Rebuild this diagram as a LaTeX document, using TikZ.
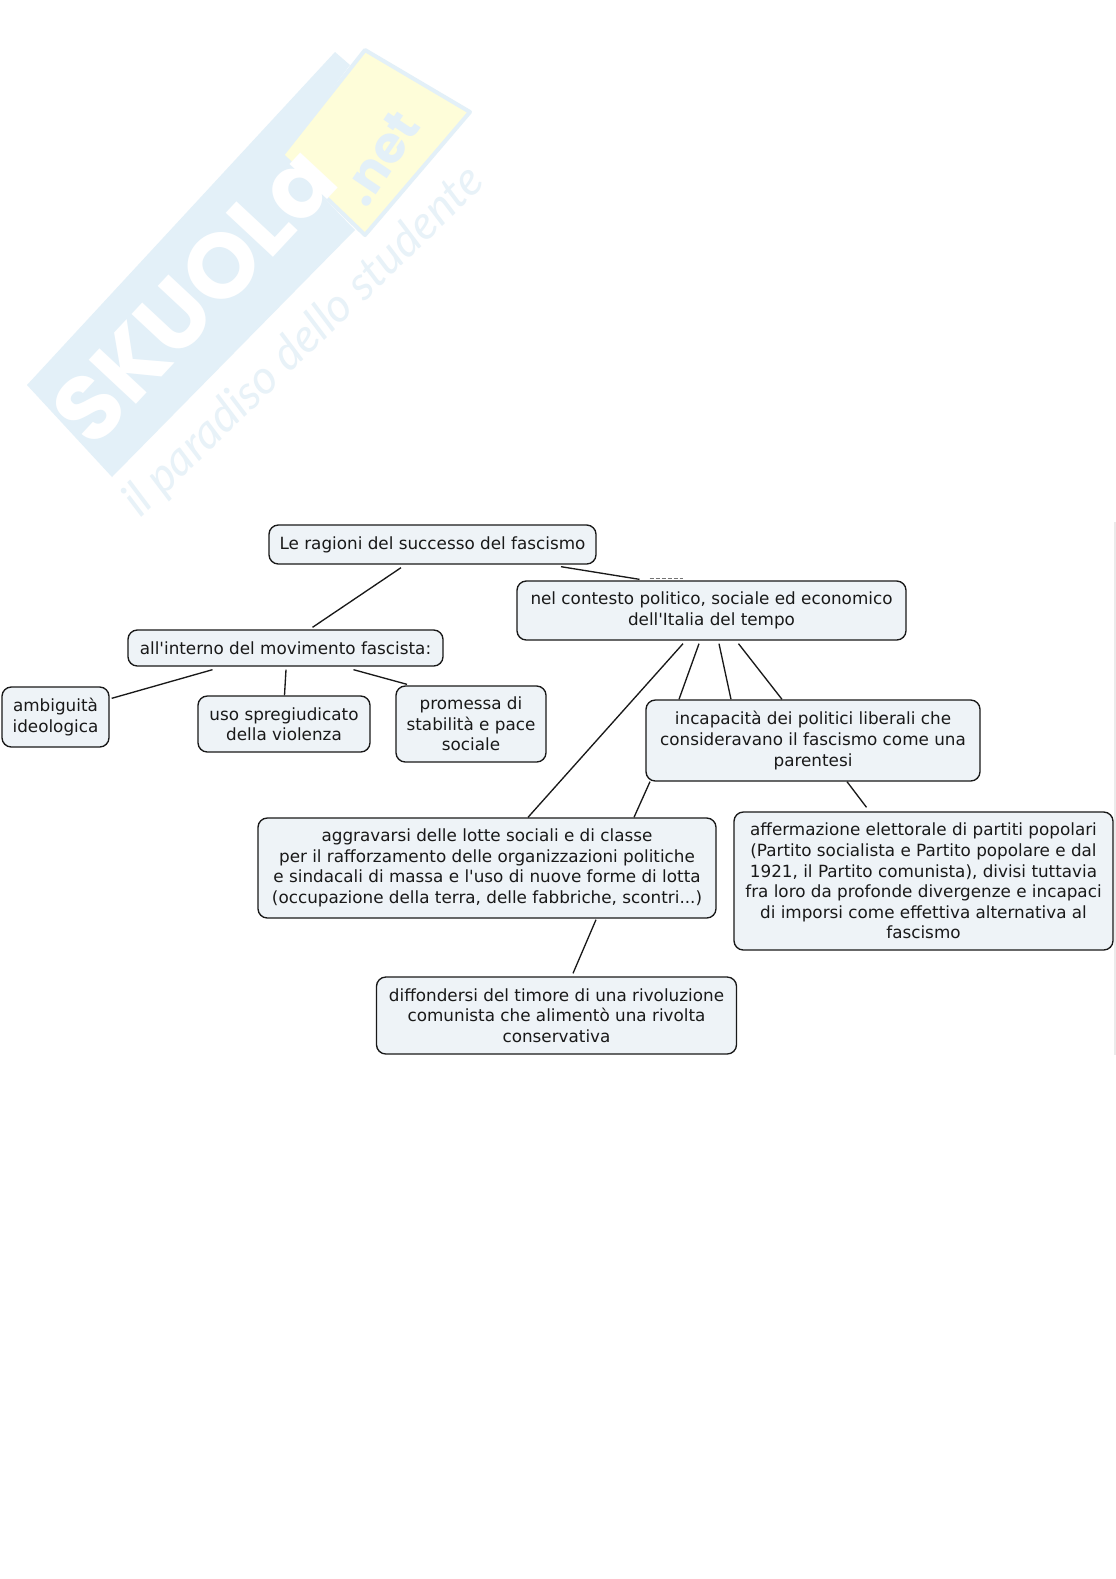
\documentclass[tikz,border=0pt]{standalone}
\usepackage{fontspec}
\newfontfamily\conceptfont{DejaVu Sans}
\newfontfamily\wmbold{Poppins}[UprightFont=* Bold]
\newfontfamily\wmscript{Lato}[UprightFont=*, ItalicFont=* Italic]
\definecolor{boxfill}{HTML}{EEF3F7}
\definecolor{wmblue}{HTML}{E3F0F8}
\definecolor{wmyellow}{HTML}{FEFDD9}
\definecolor{wmscriptc}{HTML}{E8F2F8}
\tikzset{
  concept/.style={draw=black!90,fill=boxfill,line width=1pt,rounded corners=7pt,align=center,inner sep=0pt,
    font=\conceptfont\fontsize{12.6}{15.4}\selectfont,text=black!90},
  link/.style={draw=black!90,line width=1pt},
}
\begin{document}
\begin{tikzpicture}[x=0.75pt,y=-0.75pt]
\useasboundingbox (0,0) rectangle (1116,1579);
\fill[white] (0,0) rectangle (1116,1579);
% watermark
\fill[wmblue] (27,385) -- (335,52) -- (350,65) -- (282,155) -- (355,230) -- (112,477) -- cycle;
\filldraw[wmyellow,draw=wmblue,line width=3pt,line join=round] (282,155) -- (365,50) -- (470,112) -- (365,235) -- cycle;
\node[rotate=47,text=white,font=\wmbold\fontsize{69}{69}\selectfont,inner sep=0pt] (wma) at (194,295) {SKUOLa};
\node[rotate=56,text=wmblue,font=\wmbold\fontsize{38}{38}\selectfont,inner sep=0pt] (wmb) at (380,158) {.net};
\node[rotate=44,text=wmscriptc,font=\wmscript\itshape\fontsize{35}{35}\selectfont,inner sep=0pt] (wmc) at (304,342) {il paradiso dello studente};
\draw[black!8,line width=1pt] (1115,522) -- (1115,1055);
% nodes
\node[concept,minimum width=327*0.75pt,minimum height=39*0.75pt] (top) at (432.5,544.5) {Le ragioni del successo del fascismo};
\node[concept,minimum width=315*0.75pt,minimum height=36*0.75pt] (int) at (285.5,648) {all'interno del movimento fascista:};
\node[concept,minimum width=107*0.75pt,minimum height=60*0.75pt] (amb) at (55.5,717) {ambiguità\\ideologica};
\node[concept,minimum width=172*0.75pt,minimum height=56*0.75pt] (uso) at (284,724) {uso spregiudicato\\della violenza};
\node[concept,minimum width=150*0.75pt,minimum height=76*0.75pt] (pro) at (471,724) {promessa di\\stabilità e pace\\sociale};
\node[concept,minimum width=389*0.75pt,minimum height=59*0.75pt] (nel) at (711.5,610.5) {nel contesto politico, sociale ed economico\\dell'Italia del tempo};
\node[concept,minimum width=334*0.75pt,minimum height=81*0.75pt] (inc) at (813,740.5) {incapacità dei politici liberali che\\consideravano il fascismo come una\\parentesi};
\node[concept,minimum width=458*0.75pt,minimum height=100*0.75pt] (agg) at (487,868) {aggravarsi delle lotte sociali e di classe\\per il rafforzamento delle organizzazioni politiche\\e sindacali di massa e l'uso di nuove forme di lotta\\(occupazione della terra, delle fabbriche, scontri...)};
\node[concept,minimum width=379*0.75pt,minimum height=138*0.75pt] (aff) at (923.5,881) {affermazione elettorale di partiti popolari\\(Partito socialista e Partito popolare e dal\\1921, il Partito comunista), divisi tuttavia\\fra loro da profonde divergenze e incapaci\\di imporsi come effettiva alternativa al\\fascismo};
\node[concept,minimum width=360*0.75pt,minimum height=77*0.75pt] (dif) at (556.5,1015.5) {diffondersi del timore di una rivoluzione\\comunista che alimentò una rivolta\\conservativa};
% connectors
\draw[link] ([shift={(-31.5,3)}]top.south) -- ([shift={(27,-2)}]int.north);
\draw[link] ([shift={(128.5,2)}]top.south) -- ([shift={(-72,-1)}]nel.north);
\draw[draw=black!55,line width=0.7pt,dash pattern=on 3pt off 1.5pt] ([shift={(-62,-1.5)}]nel.north) -- ([shift={(-29,-1.5)}]nel.north);
\draw[link] ([shift={(-73,3)}]int.south) -- ([shift={(2,12)}]amb.north east);
\draw[link] ([shift={(0.5,3)}]int.south) -- ([shift={(0.5,0)}]uso.north);
\draw[link] ([shift={(68,3)}]int.south) -- ([shift={(-64,-1)}]pro.north);
\draw[link] ([shift={(-28.5,3)}]nel.south) -- ([shift={(41,0)}]agg.north);
\draw[link] ([shift={(-12.5,3)}]nel.south) -- ([shift={(-134,0)}]inc.north);
\draw[link] ([shift={(7.5,3)}]nel.south) -- ([shift={(-82,0)}]inc.north);
\draw[link] ([shift={(147,0)}]agg.north) -- ([shift={(-163,0)}]inc.south);
\draw[link] ([shift={(27,3)}]nel.south) -- ([shift={(-31,0)}]inc.north);
\draw[link] ([shift={(34,0)}]inc.south) -- ([shift={(-57,-4)}]aff.north);
\draw[link] ([shift={(109,1)}]agg.south) -- ([shift={(16.5,-3)}]dif.north);
\end{tikzpicture}
\end{document}
